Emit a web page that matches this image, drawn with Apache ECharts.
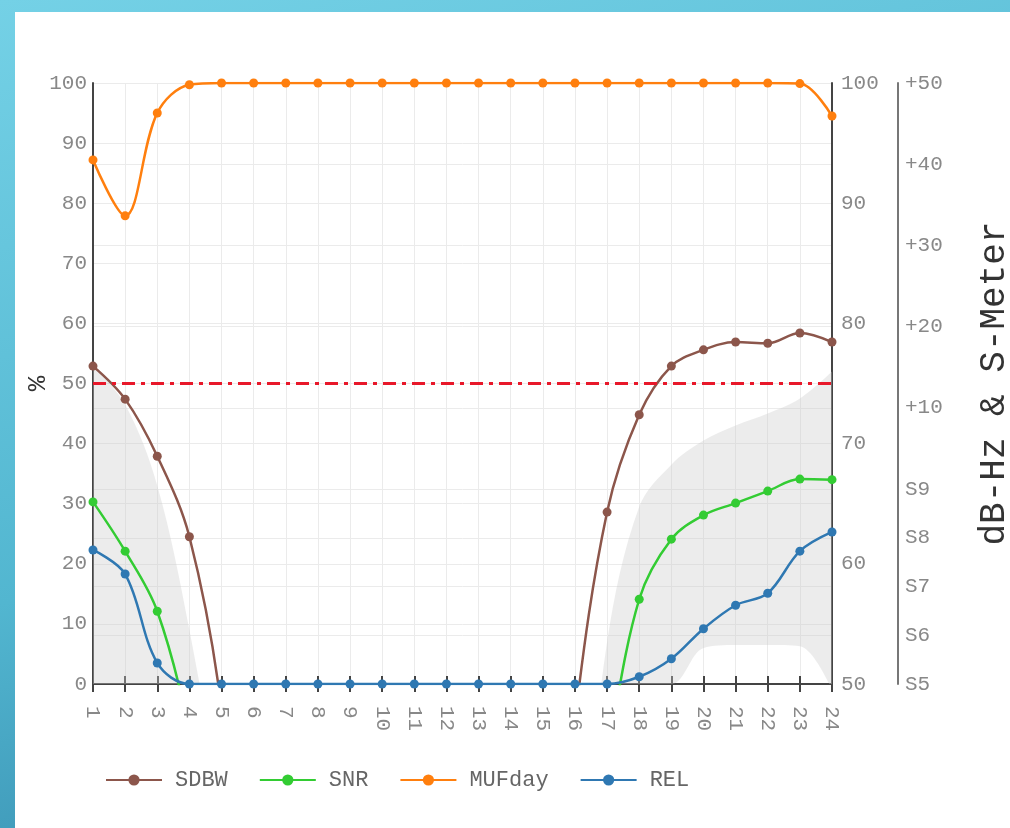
<!DOCTYPE html>
<html>
<head>
<meta charset="utf-8">
<script src="https://cdn.jsdelivr.net/npm/echarts@6/dist/echarts.min.js"></script>
<style>
  html, body { margin: 0; padding: 0; width: 1010px; height: 828px; overflow: hidden; }
  body { background: linear-gradient(165deg, #74d1e6 0%, #52b6d0 55%, #2f81a6 100%); position: relative; }
  #panel { position: absolute; left: 15px; top: 12px; right: 0; bottom: 0; background: #fff; }
  #chart { position: absolute; left: 0; top: 0; width: 1010px; height: 828px; }
</style>
</head>
<body>
<div id="panel"></div>
<div id="chart"></div>
<script>
// hours of the day (UTC)
var hours = ['1','2','3','4','5','6','7','8','9','10','11','12','13','14','15','16','17','18','19','20','21','22','23','24'];

// values, in % of the left axis (negative = below the axis, clipped)
var sdbw = [52.9, 47.4, 37.9, 24.5, -4, -60, -60, -60, -60, -60, -60, -60, -60, -60, -60, -6, 28.6, 44.8, 52.9, 55.6, 56.9, 56.7, 58.4, 56.9];
var snr = [30.3, 22.1, 12.1, -8, -40, -40, -40, -40, -40, -40, -40, -40, -40, -40, -40, -40, -12, 14.1, 24.1, 28.1, 30.1, 32.1, 34.1, 34.0];
var mufday = [87.2, 77.9, 95.0, 99.7, 100, 100, 100, 100, 100, 100, 100, 100, 100, 100, 100, 100, 100, 100, 100, 100, 100, 100, 99.9, 94.5];
var rel = [22.3, 18.3, 3.5, 0, 0, 0, 0, 0, 0, 0, 0, 0, 0, 0, 0, 0, 0, 1.2, 4.2, 9.2, 13.1, 15.1, 22.1, 25.3];

// SNR spread band (lower / upper edge)
var snrLow = [0, 0, 0, 0, 0, 0, 0, 0, 0, 0, 0, 0, 0, 0, 0, 0, 0, 0, 0, 6.0, 6.5, 6.5, 6.3, -1];
var snrHigh = [53, 46.5, 33, 9, -22, -60, -60, -60, -60, -60, -60, -60, -60, -60, -60, -40, 7, 29.5, 36.5, 40.5, 43, 45, 47.5, 52];

var threshold = 50;

// dB-Hz & S-Meter scale
var meterValues = [0, 6, 12, 18, 24, 34, 44, 54, 64, 74];
var meterLabels = ['S5', 'S6', 'S7', 'S8', 'S9', '+10', '+20', '+30', '+40', '+50'];

var mono = "'Liberation Mono', 'Courier New', monospace";
var gridColor = '#ebebeb';
var axisDark = '#444';

var bandSpan = [];
for (var i = 0; i < snrHigh.length; i++) {
  bandSpan.push(snrHigh[i] - snrLow[i]);
}

function lineSeries(name, color, data) {
  return {
    name: name,
    type: 'line',
    xAxisIndex: 0,
    yAxisIndex: 0,
    data: data,
    smooth: 0.35,
    symbol: 'circle',
    symbolSize: 9,
    showSymbol: true,
    lineStyle: { color: color, width: 2.5 },
    itemStyle: { color: color },
    z: 3
  };
}

var chart = echarts.init(document.getElementById('chart'), null, { renderer: 'canvas' });

var option = {
  animation: false,
  backgroundColor: 'transparent',
  grid: { left: 93, top: 83, width: 739, height: 601, containLabel: false, outerBoundsMode: 'none' },
  legend: {
    left: 100,
    top: 764,
    itemWidth: 56,
    itemHeight: 14,
    itemGap: 31,
    data: ['SDBW', 'SNR', 'MUFday', 'REL'],
    textStyle: { fontFamily: mono, fontSize: 22, color: '#666', padding: [0, 0, 0, 8] }
  },
  xAxis: [
    {
      type: 'category',
      data: hours,
      boundaryGap: false,
      position: 'bottom',
      axisLine: { lineStyle: { color: axisDark, width: 2 } },
      axisTick: { show: true, inside: false, length: 8, lineStyle: { color: axisDark, width: 2 } },
      axisLabel: { rotate: -90, margin: 22, fontFamily: mono, fontSize: 21, color: '#888', interval: 0 },
      splitLine: { show: true, lineStyle: { color: gridColor, width: 1 } }
    },
    {
      type: 'category',
      data: hours,
      boundaryGap: false,
      position: 'top',
      axisLine: { lineStyle: { color: axisDark, width: 2 } },
      axisTick: { show: true, inside: false, length: 8, lineStyle: { color: axisDark, width: 2 } },
      axisLabel: { show: false },
      splitLine: { show: false }
    }
  ],
  yAxis: [
    {
      type: 'value',
      min: 0,
      max: 100,
      interval: 10,
      position: 'left',
      name: '%',
      nameLocation: 'middle',
      nameRotate: 90,
      nameGap: 42,
      nameMoveOverlap: false,
      nameTextStyle: { fontFamily: mono, fontSize: 26, color: '#333' },
      axisLine: { show: true, lineStyle: { color: axisDark, width: 2 } },
      axisTick: { show: false },
      axisLabel: { margin: 6, fontFamily: mono, fontSize: 21, color: '#888' },
      splitLine: { show: true, lineStyle: { color: gridColor, width: 1 } }
    },
    {
      type: 'value',
      min: 50,
      max: 100,
      interval: 10,
      position: 'right',
      axisLine: { show: true, lineStyle: { color: axisDark, width: 2 } },
      axisTick: { show: false },
      axisLabel: { margin: 9, fontFamily: mono, fontSize: 21, color: '#888' },
      splitLine: { show: true, lineStyle: { color: gridColor, width: 1 } }
    },
    {
      type: 'value',
      min: 0,
      max: 74,
      position: 'right',
      offset: 66,
      name: 'dB-Hz & S-Meter',
      nameLocation: 'middle',
      nameRotate: 90,
      nameGap: 78,
      nameMoveOverlap: false,
      nameTextStyle: { fontFamily: mono, fontSize: 36, color: '#333' },
      axisLine: { show: true, lineStyle: { color: '#777', width: 2 } },
      axisTick: { show: false, customValues: meterValues },
      axisLabel: {
        margin: 7,
        fontFamily: mono,
        fontSize: 21,
        color: '#888',
        customValues: meterValues,
        formatter: function (v) {
          var k = meterValues.indexOf(v);
          return k >= 0 ? meterLabels[k] : '';
        }
      },
      splitLine: { show: true, lineStyle: { color: gridColor, width: 1 } }
    }
  ],
  series: [
    {
      name: 'band-low',
      type: 'line',
      stack: 'band',
      stackStrategy: 'all',
      data: snrLow,
      smooth: 0.35,
      symbol: 'none',
      lineStyle: { width: 0, opacity: 0 },
      silent: true,
      z: 1
    },
    {
      name: 'band-span',
      type: 'line',
      stack: 'band',
      stackStrategy: 'all',
      data: bandSpan,
      smooth: 0.35,
      symbol: 'none',
      lineStyle: { width: 0, opacity: 0 },
      areaStyle: { color: 'rgba(200,200,200,0.5)' },
      silent: true,
      z: 1,
      markLine: {
        silent: true,
        symbol: ['none', 'none'],
        label: { show: false },
        lineStyle: { color: '#e8182a', width: 3, type: [13, 6, 4, 6], opacity: 1 },
        data: [{ yAxis: threshold }]
      }
    },
    lineSeries('SDBW', '#8c564b', sdbw),
    lineSeries('SNR', '#33cc33', snr),
    lineSeries('MUFday', '#ff7f0e', mufday),
    lineSeries('REL', '#2f78b2', rel)
  ]
};

chart.setOption(option);
</script>
</body>
</html>
